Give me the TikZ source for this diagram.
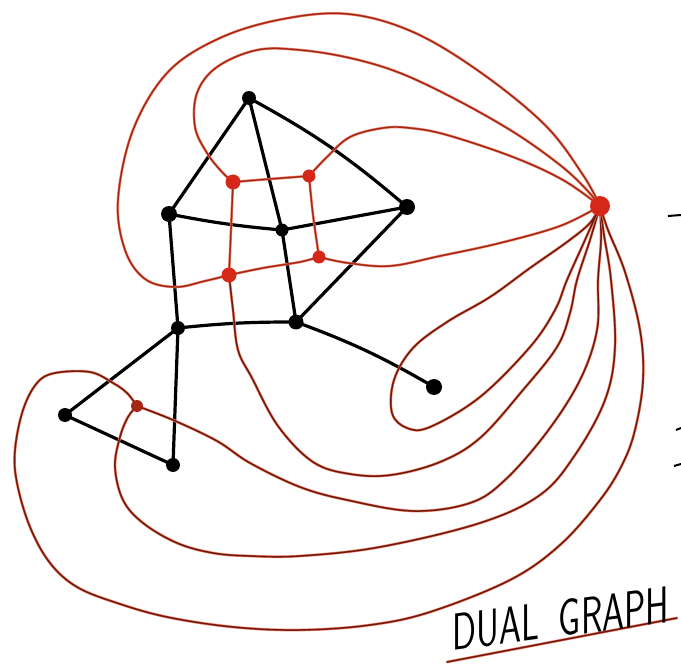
\documentclass[tikz,border=0pt]{standalone}
\usetikzlibrary{calc}
\definecolor{redcore}{RGB}{165,38,20}
\definecolor{redhalo}{RGB}{235,130,105}
\definecolor{darkcore}{RGB}{115,24,12}
\definecolor{dotred}{RGB}{214,40,25}
\tikzset{
  bedge/.style={draw=black, line width=3.2pt, line cap=round, line join=round},
  redge/.style={draw=redhalo, line width=0.6pt, double=redcore, double distance=1.4pt, line cap=round},
  redgedark/.style={draw=redhalo, line width=0.6pt, double=darkcore, double distance=1.5pt, line cap=round},
  bv/.style={circle, fill=black, inner sep=0pt, minimum size=#1},
  bv/.default=13pt,
  rv/.style={circle, fill=dotred, inner sep=0pt, minimum size=#1},
  rv/.default=12pt,
  caption/.style={font=\sffamily\fontsize{52}{52}\selectfont, text=black, inner sep=0pt}
}
\begin{document}
\begin{tikzpicture}[x=1pt,y=-1pt]
\useasboundingbox (0,0) rectangle (681,666);
\fill[white] (0,0) rectangle (681,666);
% primal vertices
\coordinate (A) at (249,98);
\coordinate (B) at (407,207);
\coordinate (C) at (169,214);
\coordinate (D) at (282,230);
\coordinate (E) at (178,328);
\coordinate (F) at (296,322);
\coordinate (G) at (434,387);
\coordinate (H) at (65,415);
\coordinate (I) at (173,465);
% dual vertices
\coordinate (R1) at (233,182);
\coordinate (R2) at (309,176);
\coordinate (R3) at (229,275);
\coordinate (R4) at (319,257);
\coordinate (R5) at (137,406);
\coordinate (R6) at (600,206);

% black edges
\draw[bedge] (A) -- (C);
\draw[bedge] (A) -- (D);
\draw[bedge] (A) to[bend left=6] (B);
\draw[bedge] (C) to[bend right=3] (D);
\draw[bedge] (D) -- (B);
\draw[bedge] (C) -- (E);
\draw[bedge] (D) -- (F);
\draw[bedge] (B) -- (F);
\draw[bedge] (E) to[bend left=3] (F);
\draw[bedge] (F) to[bend left=5] (G);
\draw[bedge] (E) -- (H);
\draw[bedge] (E) -- (I);
\draw[bedge] (H) -- (I);

% red dual edges (inner)
\draw[redge] plot[smooth] coordinates {(R1) (270,179) (R2)};
\draw[redge] plot[smooth] coordinates {(R1) (231,230) (R3)};
\draw[redge] plot[smooth] coordinates {(R2) (313,215) (R4)};
\draw[redge] plot[smooth] coordinates {(R3) (263,268) (300,262) (R4)};
% outer top curve R6 -> R3
\draw[redge] plot[smooth, tension=0.6] coordinates {(R6) (583,175) (545,125) (480,72) (413,32) (348,14) (283,19) (220,38) (168,72) (133,130) (118,200) (125,250) (145,279) (175,287) (205,281) (R3)};
% R6 -> R1
\draw[redge] plot[smooth, tension=0.6] coordinates {(R6) (585,188) (560,165) (515,133) (457,100) (400,73) (350,58) (300,50) (257,50) (217,67) (197,93) (195,127) (207,153) (222,172) (R1)};
% R2 -> R6
\draw[redge] plot[smooth, tension=0.6] coordinates {(R2) (327,157) (350,137) (383,128) (410,128) (447,135) (513,157) (563,180) (R6)};
% R4 -> R6
\draw[redge] plot[smooth, tension=0.6] coordinates {(R4) (348,263) (390,266) (440,256) (500,243) (560,226) (R6)};
% R3 -> down -> R6
\draw[redgedark] plot[smooth, tension=0.6] coordinates {(R3) (233,310) (238,350) (252,378) (278,426) (313,462) (350,474) (391,475) (440,462) (480,438) (523,390) (557,347) (570,313) (577,280) (590,240) (R6)};
% loop around G
\draw[redgedark] plot[smooth, tension=0.6] coordinates {(R6) (590,223) (567,242) (530,268) (490,297) (447,322) (413,348) (394,380) (392,413) (407,428) (430,427) (480,397) (530,347) (555,310) (567,280) (585,240) (R6)};
% R5 -> right -> R6
\draw[redgedark] plot[smooth, tension=0.6] coordinates {(R5) (173,420) (217,441) (250,463) (300,487) (347,500) (413,511) (470,503) (505,480) (547,432) (580,380) (597,330) (598,280) (601,240) (R6)};
% R5 -> down -> R6
\draw[redgedark] plot[smooth, tension=0.6] coordinates {(R5) (128,417) (120,437) (115,467) (123,500) (143,523) (177,543) (213,553) (250,556) (300,556) (380,547) (480,523) (540,495) (575,455) (605,400) (615,347) (611,280) (604,235) (R6)};
% R5 -> outer -> R6
\draw[redgedark] plot[smooth, tension=0.6] coordinates {(R5) (127,393) (113,383) (90,372) (55,373) (37,383) (23,410) (15,450) (17,483) (30,527) (50,563) (77,587) (117,603) (167,617) (233,627) (300,630) (370,625) (430,612) (510,580) (560,545) (600,500) (622,465) (635,430) (643,380) (640,330) (625,272) (608,230) (R6)};

% vertices
\node[bv=14pt] (nA) at (A) {};
\node[bv=16pt] (nB) at (B) {};
\node[bv=16pt] (nC) at (C) {};
\node[bv=13pt] (nD) at (D) {};
\node[bv=14pt] (nE) at (E) {};
\node[bv=15pt] (nF) at (F) {};
\node[bv=16pt] (nG) at (G) {};
\node[bv=14pt] (nH) at (H) {};
\node[bv=14pt] (nI) at (I) {};
\node[rv=15pt] (nR1) at (R1) {};
\node[rv=13pt] (nR2) at (R2) {};
\node[rv=15pt] (nR3) at (R3) {};
\node[rv=13pt] (nR4) at (R4) {};
\node[rv=12pt, fill=redcore] (nR5) at (R5) {};
\node[rv=20pt] (nR6) at (R6) {};

% caption and underline
\coordinate (u1) at (447,662);
\coordinate (u2) at (677,618);
\draw[redgedark, line width=0.6pt] (u1) -- (u2);
\node[caption, yslant=0.13, xscale=0.68] (cap) at (561,619) {DUAL \hspace{12pt}GRAPH};

% scan marks at right edge
\coordinate (m1a) at (668,216); \coordinate (m1b) at (681,215);
\coordinate (m2a) at (676,430); \coordinate (m2b) at (681,428);
\coordinate (m3a) at (674,466); \coordinate (m3b) at (681,464);
\draw[black, line width=2pt] (m1a) -- (m1b);
\draw[black, line width=2pt] (m2a) -- (m2b);
\draw[black, line width=2pt] (m3a) -- (m3b);
\end{tikzpicture}
\end{document}
